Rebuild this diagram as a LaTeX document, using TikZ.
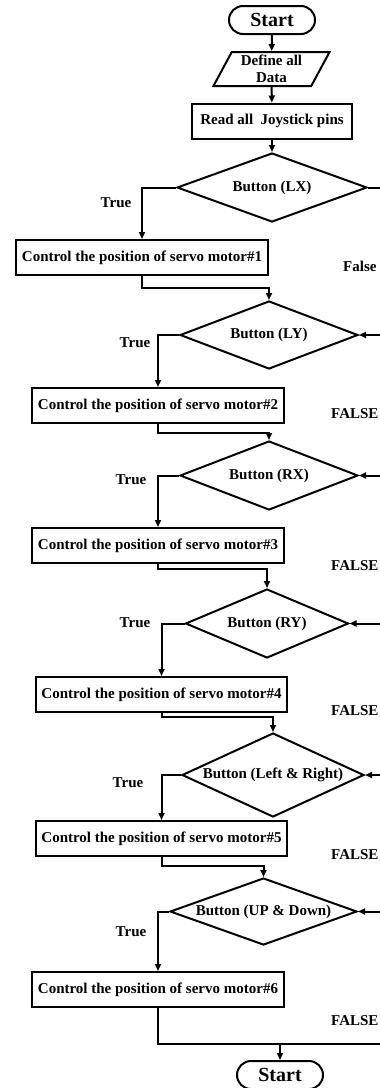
\documentclass[tikz,border=0pt]{standalone}
\usepackage{fontspec}
\setmainfont{Liberation Serif}
\usetikzlibrary{shapes.geometric,shapes.misc,arrows.meta}
\tikzset{
  base/.style={draw=black, line width=2pt, inner sep=0pt, font=\fontsize{15}{18}\selectfont\bfseries},
  term/.style={base, rounded rectangle, minimum width=86pt, minimum height=28pt, font=\fontsize{20}{22}\selectfont\bfseries},
  io/.style={base, trapezium, trapezium left angle=63, trapezium right angle=117, trapezium stretches=true, minimum width=117pt, minimum height=34pt, align=center},
  proc/.style={base, rectangle, minimum height=35pt},
  dec/.style={base, diamond, aspect=2.5},
  lbl/.style={inner sep=0pt, font=\fontsize{15}{18}\selectfont\bfseries},
  line/.style={line width=2pt},
  arr/.style={line width=2pt, -{Triangle[length=7pt,width=6pt]}}
}
\newcommand{\zb}[1]{\makebox[0pt]{#1}}
\begin{document}
\begin{tikzpicture}[x=1pt,y=-1pt]
\useasboundingbox (0,0) rectangle (380,1088);
\clip (0,0) rectangle (380,1088);
% nodes
\node[term] (start) at (272,20) {Start};
\node[io] (def) at (271.5,69) {Define all\\[-1pt]Data};
\node[proc, minimum width=160pt] (read) at (272,121) {Read all\ \ Joystick pins};
\node[dec, minimum width=190pt, minimum height=69pt] (dLX) at (272,187.5) {\zb{Button (LX)}};
\node[proc, minimum width=252pt] (r1) at (142,257.5) {Control the position of servo motor\#1};
\node[dec, minimum width=178pt, minimum height=68pt] (dLY) at (269,335) {\zb{Button (LY)}};
\node[proc, minimum width=252pt] (r2) at (158,405.5) {Control the position of servo motor\#2};
\node[dec, minimum width=178pt, minimum height=69pt] (dRX) at (269,475.5) {\zb{Button (RX)}};
\node[proc, minimum width=252pt] (r3) at (158,545.5) {Control the position of servo motor\#3};
\node[dec, minimum width=163pt, minimum height=69pt] (dRY) at (267,623.5) {\zb{Button (RY)}};
\node[proc, minimum width=251pt] (r4) at (161.5,694.5) {Control the position of servo motor\#4};
\node[dec, minimum width=182pt, minimum height=84pt] (dLR) at (273,775) {\zb{Button (Left \& Right)}};
\node[proc, minimum width=251pt] (r5) at (161.5,838.5) {Control the position of servo motor\#5};
\node[dec, minimum width=187pt, minimum height=67pt] (dUD) at (263.5,911.5) {\zb{Button (UP \& Down)}};
\node[proc, minimum width=252pt] (r6) at (158,989.5) {Control the position of servo motor\#6};
\node[term] (end) at (280,1075) {Start};
% right-edge coordinates
\coordinate (e1) at (384,187.5);
\coordinate (e2) at (384,335);
\coordinate (e3) at (384,475.5);
\coordinate (e4) at (384,623.5);
\coordinate (e5) at (384,775);
\coordinate (e6) at (384,911.5);
\coordinate (e7) at (384,1044);
% main flow
\draw[arr] (start) -- (def);
\draw[arr] (def) -- (read);
\draw[arr] (read) -- (dLX);
% true branches
\draw[arr] (dLX.west) -| (r1.north);
\draw[arr] (dLY.west) -| (r2.north);
\draw[arr] (dRX.west) -| (r3.north);
\draw[arr] (dRY.west) -| (r4.north);
\draw[arr] (dLR.west) -| (r5.north);
\draw[arr] (dUD.west) -| (r6.north);
% process to next decision
\draw[arr] (r1.south) -- ++(0,12) -| (dLY.north);
\draw[arr] (r2.south) -- ++(0,9) -| (dRX.north);
\draw[arr] (r3.south) -- ++(0,5) -| (dRY.north);
\draw[arr] (r4.south) -- ++(0,4) -| (dLR.north);
\draw[arr] (r5.south) -- ++(0,9) -| (dUD.north);
\draw[line] (r6.south) |- (e7);
\coordinate (j7) at (end.north |- e7);
\draw[arr] (j7) -- (end.north);
% false branches
\draw[line] (dLX.east) -- (e1);
\draw[arr] (e2) -- (dLY.east);
\draw[arr] (e3) -- (dRX.east);
\draw[arr] (e4) -- (dRY.east);
\draw[arr] (e5) -- (dLR.east);
\draw[arr] (e6) -- (dUD.east);
% labels
\node[lbl] (t1) at (116,203) {True};
\node[lbl] (t2) at (135,343) {True};
\node[lbl] (t3) at (131,480) {True};
\node[lbl] (t4) at (135,623) {True};
\node[lbl] (t5) at (128,783) {True};
\node[lbl] (t6) at (131,932) {True};
\node[lbl, anchor=west] (f1) at (343,266) {False};
\node[lbl, anchor=west] (f2) at (331,414) {FALSE};
\node[lbl, anchor=west] (f3) at (331,566) {FALSE};
\node[lbl, anchor=west] (f4) at (331,711) {FALSE};
\node[lbl, anchor=west] (f5) at (331,855) {FALSE};
\node[lbl, anchor=west] (f6) at (331,1021) {FALSE};
\end{tikzpicture}
\end{document}
